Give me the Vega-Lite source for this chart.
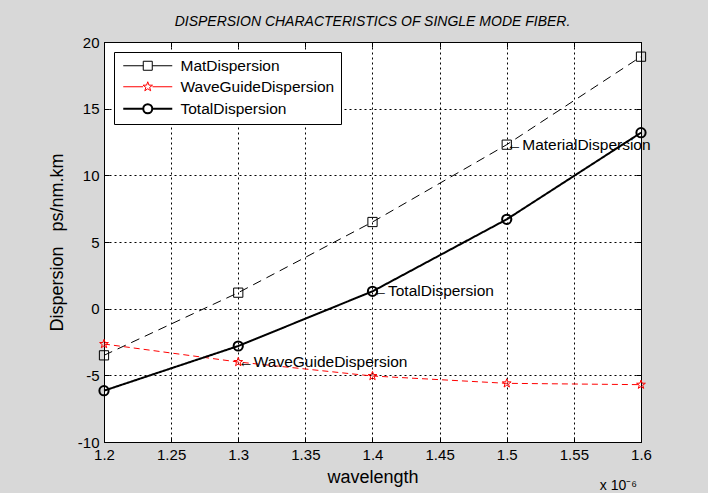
{
  "$schema": "https://vega.github.io/schema/vega-lite/v6.json",
  "width": 537,
  "height": 400,
  "autosize": {"type": "none"},
  "padding": {"left": 104, "top": 42, "right": 67, "bottom": 51},
  "background": "#d8d8d8",
  "title": {
    "text": "DISPERSION CHARACTERISTICS OF SINGLE MODE FIBER.",
    "font": "Liberation Sans",
    "fontSize": 14,
    "fontStyle": "italic",
    "fontWeight": "normal",
    "color": "#000000",
    "anchor": "middle",
    "offset": 6
  },
  "datasets": {
    "disp": [
      {"wl": 1.2, "series": "MatDispersion", "d": -3.5},
      {"wl": 1.3, "series": "MatDispersion", "d": 1.2},
      {"wl": 1.4, "series": "MatDispersion", "d": 6.5},
      {"wl": 1.5, "series": "MatDispersion", "d": 12.3},
      {"wl": 1.6, "series": "MatDispersion", "d": 18.9},
      {"wl": 1.2, "series": "WaveGuideDispersion", "d": -2.65},
      {"wl": 1.3, "series": "WaveGuideDispersion", "d": -4.0},
      {"wl": 1.4, "series": "WaveGuideDispersion", "d": -5.05},
      {"wl": 1.5, "series": "WaveGuideDispersion", "d": -5.6},
      {"wl": 1.6, "series": "WaveGuideDispersion", "d": -5.7},
      {"wl": 1.2, "series": "TotalDispersion", "d": -6.15},
      {"wl": 1.3, "series": "TotalDispersion", "d": -2.8},
      {"wl": 1.4, "series": "TotalDispersion", "d": 1.3},
      {"wl": 1.5, "series": "TotalDispersion", "d": 6.7},
      {"wl": 1.6, "series": "TotalDispersion", "d": 13.2}
    ],
    "notes": [
      {"wl": 1.5, "d": 12.3, "label": "←MaterialDispersion"},
      {"wl": 1.4, "d": 1.3, "label": "←TotalDispersion"},
      {"wl": 1.3, "d": -4.0, "label": "←WaveGuideDispersion"}
    ]
  },
  "config": {
    "font": "Liberation Sans",
    "view": {"stroke": "#000000", "strokeWidth": 1, "fill": "#ffffff"},
    "axis": {
      "labelFont": "Liberation Sans",
      "labelFontSize": 15,
      "labelColor": "#000000",
      "labelFlush": false,
      "labelOverlap": false,
      "titleFont": "Liberation Sans",
      "titleFontSize": 18,
      "titleFontWeight": "normal",
      "titleColor": "#000000",
      "tickColor": "#000000",
      "tickSize": -5,
      "domain": false,
      "gridColor": "#000000",
      "gridDash": [2, 3],
      "gridOpacity": 1,
      "gridWidth": 1
    },
    "legend": {
      "title": null,
      "orient": "top-left",
      "offset": 10,
      "padding": 6,
      "fillColor": "#ffffff",
      "strokeColor": "#000000",
      "labelFont": "Liberation Sans",
      "labelFontSize": 15.5,
      "labelColor": "#000000",
      "labelOffset": 45,
      "rowPadding": 4,
      "symbolSize": 100,
      "symbolOpacity": 1
    }
  },
  "resolve": {"scale": {"shape": "independent", "color": "independent", "strokeWidth": "independent"}},
  "layer": [
    {
      "data": {"name": "disp"},
      "mark": {"type": "line"},
      "encoding": {
        "x": {
          "field": "wl", "type": "quantitative",
          "scale": {"domain": [1.2, 1.6], "nice": false, "zero": false},
          "title": "wavelength",
          "axis": {
            "orient": "bottom", "grid": true,
            "values": [1.2, 1.25, 1.3, 1.35, 1.4, 1.45, 1.5, 1.55, 1.6],
            "labelExpr": "'' + datum.value",
            "labelPadding": 10, "titlePadding": 6
          }
        },
        "y": {
          "field": "d", "type": "quantitative",
          "scale": {"domain": [-10, 20], "nice": false, "zero": false},
          "title": "Dispersion\u00a0\u00a0\u00a0ps/nm.km",
          "axis": {
            "orient": "left", "grid": true,
            "values": [-10, -5, 0, 5, 10, 15, 20],
            "labelExpr": "'' + datum.value",
            "labelPadding": 10, "titlePadding": 11
          }
        },
        "color": {
          "field": "series", "type": "nominal",
          "scale": {"domain": ["MatDispersion", "WaveGuideDispersion", "TotalDispersion"], "range": ["#000000", "#ff0000", "#000000"]},
          "legend": null
        },
        "strokeDash": {
          "field": "series", "type": "nominal",
          "scale": {"domain": ["MatDispersion", "WaveGuideDispersion", "TotalDispersion"], "range": [[9, 6], [6, 4], [1, 0]]},
          "legend": null
        },
        "strokeWidth": {"condition": {"test": "datum.series === 'TotalDispersion'", "value": 2}, "value": 1}
      }
    },
    {
      "data": {"name": "disp"},
      "mark": {"type": "point", "filled": false, "size": 85, "opacity": 1},
      "encoding": {
        "x": {
          "field": "wl", "type": "quantitative",
          "scale": {"domain": [1.2, 1.6], "nice": false, "zero": false},
          "axis": {"orient": "top", "grid": false, "labels": false, "title": null,
                   "values": [1.2, 1.25, 1.3, 1.35, 1.4, 1.45, 1.5, 1.55, 1.6]}
        },
        "y": {
          "field": "d", "type": "quantitative",
          "scale": {"domain": [-10, 20], "nice": false, "zero": false},
          "axis": {"orient": "right", "grid": false, "labels": false, "title": null,
                   "values": [-10, -5, 0, 5, 10, 15, 20]}
        },
        "color": {
          "field": "series", "type": "nominal",
          "scale": {"domain": ["MatDispersion", "WaveGuideDispersion", "TotalDispersion"], "range": ["#000000", "#ff0000", "#000000"]},
          "legend": null
        },
        "shape": {
          "field": "series", "type": "nominal",
          "scale": {
            "domain": ["MatDispersion", "WaveGuideDispersion", "TotalDispersion"],
            "range": ["square", "M0,-1L0.235,-0.324L0.951,-0.309L0.38,0.124L0.588,0.809L0,0.4L-0.588,0.809L-0.38,0.124L-0.951,-0.309L-0.235,-0.324Z", "circle"]
          },
          "legend": null
        },
        "strokeWidth": {"condition": {"test": "datum.series === 'TotalDispersion'", "value": 2}, "value": 1}
      }
    },
    {
      "data": {"name": "disp"},
      "transform": [{"filter": "false"}],
      "mark": {"type": "point", "filled": false},
      "encoding": {
        "x": {"field": "wl", "type": "quantitative", "axis": null},
        "y": {"field": "d", "type": "quantitative", "axis": null},
        "color": {
          "field": "series", "type": "nominal",
          "scale": {"domain": ["MatDispersion", "WaveGuideDispersion", "TotalDispersion"], "range": ["#000000", "#ff0000", "#000000"]},
          "legend": {}
        },
        "strokeWidth": {
          "field": "series", "type": "nominal",
          "scale": {"type": "ordinal", "domain": ["MatDispersion", "WaveGuideDispersion", "TotalDispersion"], "range": [1, 1, 2]},
          "legend": {}
        },
        "shape": {
          "field": "series", "type": "nominal",
          "scale": {
            "domain": ["MatDispersion", "WaveGuideDispersion", "TotalDispersion"],
            "range": [
              "M-0.9,0H3.1M4.9,0H8.9M3.1,-0.9H4.9V0.9H3.1Z",
              "M-0.9,0H3.05M4.95,0H8.9M4,-1L4.235,-0.324L4.951,-0.309L4.38,0.124L4.588,0.809L4,0.4L3.412,0.809L3.62,0.124L3.049,-0.309L3.765,-0.324Z",
              "M-0.9,0H3.1M4.9,0H8.9M3.1,0A0.9,0.9,0,1,0,4.9,0A0.9,0.9,0,1,0,3.1,0Z"
            ]
          },
          "legend": {}
        }
      }
    },
    {
      "data": {"name": "notes"},
      "mark": {"type": "text", "align": "left", "baseline": "middle", "font": "Liberation Sans", "fontSize": 15.5, "color": "#000000"},
      "encoding": {
        "x": {"field": "wl", "type": "quantitative", "axis": null},
        "y": {"field": "d", "type": "quantitative", "axis": null},
        "text": {"field": "label"}
      }
    },
    {
      "data": {"values": [{"label": "x 10⁻⁶"}]},
      "mark": {"type": "text", "align": "right", "baseline": "middle", "font": "Liberation Sans", "fontSize": 14, "color": "#000000", "dx": -4, "dy": 44},
      "encoding": {
        "x": {"datum": 1.6, "type": "quantitative", "axis": null},
        "y": {"datum": -10, "type": "quantitative", "axis": null},
        "text": {"field": "label"}
      }
    }
  ]
}
